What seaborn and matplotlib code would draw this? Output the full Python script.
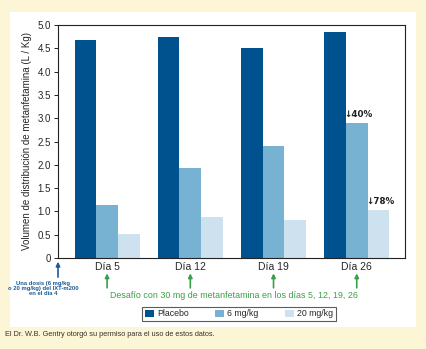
import matplotlib
matplotlib.use("Agg")
import matplotlib.pyplot as plt
import seaborn as sns
import pandas as pd
from matplotlib.patches import Rectangle

days = ["Día 5", "Día 12", "Día 19", "Día 26"]
groups = ["Placebo", "6 mg/kg", "20 mg/kg"]
placebo = [4.68, 4.74, 4.51, 4.85]
mg6 = [1.14, 1.93, 2.41, 2.90]
mg20 = [0.52, 0.88, 0.82, 1.04]
yticks = [0, 0.5, 1.0, 1.5, 2.0, 2.5, 3.0, 3.5, 4.0, 4.5, 5.0]
ytick_labels = ["0", "0.5", "1.0", "1.5", "2.0", "2.5", "3.0", "3.5", "4.0", "4.5", "5.0"]
annot_labels = ["\u219340%", "\u219378%"]

df = pd.DataFrame({
    "day": days * 3,
    "group": [groups[0]] * 4 + [groups[1]] * 4 + [groups[2]] * 4,
    "value": placebo + mg6 + mg20,
})

sns.set_theme(style="white")
plt.rcParams["font.family"] = ["Liberation Sans", "DejaVu Sans"]

W, H = 426, 349
fig = plt.figure(figsize=(W / 100, H / 100), dpi=100)
fig.patch.set_facecolor("#fdf6d6")
fig.add_artist(Rectangle((10 / W, 1 - 327 / H), 406 / W, 315 / H,
                         transform=fig.transFigure, facecolor="white",
                         edgecolor="none", zorder=0))

ax = fig.add_axes([58 / W, 1 - 258 / H, 347 / W, 233 / H])
palette = ["#00528f", "#78b2d2", "#cde2ee"]
sns.barplot(data=df, x="day", y="value", hue="group", hue_order=groups,
            order=days, palette=palette, width=0.78, saturation=1,
            ax=ax, legend=False, edgecolor="none")

ax.set_ylim(0, 5.0)
ax.set_xlim(-0.59, 3.58)
ax.set_yticks(yticks)
ax.set_yticklabels(ytick_labels, fontsize=7)
ax.tick_params(axis="y", length=3, width=0.7, color="#222222", pad=2, left=True)
ax.tick_params(axis="x", length=0, labelsize=7.5, pad=3)
ax.set_xticks(range(len(days)))
ax.set_xticklabels(days)
ax.set_xlabel("")
ax.set_ylabel("Volumen de distribución de metanfetamina (L / Kg)", fontsize=7, labelpad=4)
for s in ax.spines.values():
    s.set_color("#222222")
    s.set_linewidth(0.8)

# annotations
bar_w = 0.26
ax.text(3 + 0.02, mg6[3] + 0.08, annot_labels[0], ha="center", va="bottom",
        fontsize=6.3, fontweight="bold", color="#222222", family=["DejaVu Sans"])
ax.text(3 + bar_w + 0.02, mg20[3] + 0.08, annot_labels[1], ha="center", va="bottom",
        fontsize=6.3, fontweight="bold", color="#222222", family=["DejaVu Sans"])

# arrows below axis
blue = "#1a5a9a"
green = "#3aa047"
for i in range(len(days)):
    ax.annotate("", xy=(i, -0.33), xytext=(i, -0.64),
                arrowprops=dict(arrowstyle="-|>", color=green, lw=1.2,
                                mutation_scale=6, shrinkA=0, shrinkB=0),
                annotation_clip=False)
ax.annotate("", xy=(-0.59, -0.08), xytext=(-0.59, -0.41),
            arrowprops=dict(arrowstyle="-|>", color=blue, lw=1.2,
                            mutation_scale=6, shrinkA=0, shrinkB=0),
            annotation_clip=False)
fig.text(43.5 / W, 1 - 288.5 / H, "Una dosis (6 mg/kg\no 20 mg/kg) del IXT-m200\nen el día 4",
         ha="center", va="center", fontsize=4.2, color=blue, fontweight="bold",
         linespacing=1.12)
fig.text(233.5 / W, 1 - 295 / H,
         "Desafío con 30 mg de metanfetamina en los días 5, 12, 19, 26",
         ha="center", va="center", fontsize=6.4, color=green)

# legend
handles = [Rectangle((0, 0), 1, 1, facecolor=c, edgecolor="none") for c in palette]
leg = fig.legend(handles, groups, loc="center", bbox_to_anchor=(239 / W, 1 - 314 / H),
                 ncol=3, fontsize=6.3, frameon=True, fancybox=False,
                 handlelength=1.0, handleheight=1.0, handletextpad=0.4,
                 columnspacing=3.0, borderpad=0.3)
leg.get_frame().set_edgecolor("#333333")
leg.get_frame().set_linewidth(0.8)

fig.text(5 / W, 1 - 334 / H,
         "El Dr. W.B. Gentry otorgó su permiso para el uso de estos datos.",
         ha="left", va="center", fontsize=5.3, color="#333333")

fig.savefig("out.png", dpi=100, facecolor=fig.get_facecolor())
